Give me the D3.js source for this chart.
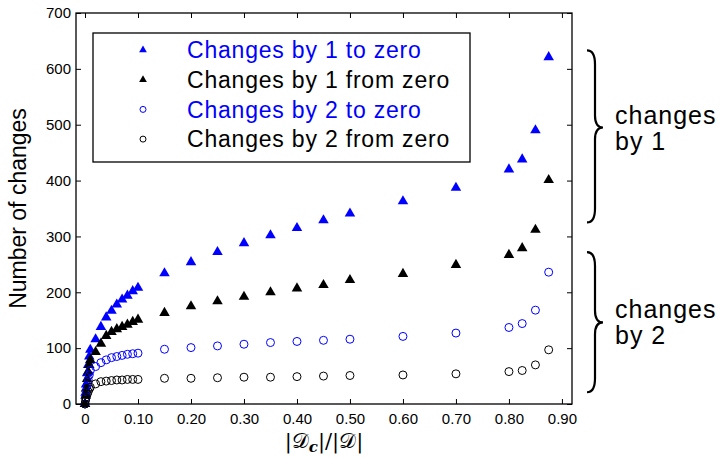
<!DOCTYPE html>
<html>
<head>
<meta charset="utf-8">
<script src="https://cdn.jsdelivr.net/npm/d3@7"></script>
<style>
  body { margin: 0; background: #fff; }
  svg { display: block; font-family: "Liberation Sans", Arial, Helvetica, sans-serif; }
</style>
</head>
<body>
<div id="chart"></div>
<script>
// |Dc|/|D| sample points
const ratios = [0, 0.001, 0.002, 0.004, 0.006, 0.008, 0.01, 0.02, 0.03, 0.04, 0.05, 0.06, 0.07, 0.08, 0.09, 0.1,
  0.15, 0.2, 0.25, 0.3, 0.35, 0.4, 0.45, 0.5, 0.6, 0.7, 0.8, 0.825, 0.85, 0.875];

const byOneToZero = [0, 20, 35, 55, 70, 85, 97, 116, 138, 155, 167, 178, 187, 194, 202, 208,
  234, 254, 272, 288, 302, 315, 329, 341, 363, 387, 420, 438, 490, 621];
const byOneFromZero = [0, 15, 28, 45, 58, 70, 79, 93, 108, 122, 129, 134, 138, 142, 147, 151,
  163, 175, 184, 192, 200, 207, 213, 222, 233, 249, 267, 279, 312, 401];
const byTwoToZero = [0, 12, 22, 33, 43, 52, 60, 67, 74, 79, 83, 85, 87, 89, 90, 91,
  98, 101, 104, 107, 110, 112, 114, 116, 121, 127, 137, 144, 168, 236];
const byTwoFromZero = [0, 6, 11, 17, 22, 27, 30, 36, 40, 41, 42, 43, 43, 44, 44, 44,
  46, 46, 47, 48, 48, 49, 50, 51, 52, 54, 58, 60, 70, 97];

const seriesNames = ['Changes by 1 to zero', 'Changes by 1 from zero', 'Changes by 2 to zero', 'Changes by 2 from zero'];
const xTicks = [0, 0.1, 0.2, 0.3, 0.4, 0.5, 0.6, 0.7, 0.8, 0.9];
const xTickLabels = ['0', '0.10', '0.20', '0.30', '0.40', '0.50', '0.60', '0.70', '0.80', '0.90'];
const yTicks = [0, 100, 200, 300, 400, 500, 600, 700];

// braces on the right: value range covered and where the point sits
const braceLabels = [['changes', 'by 1'], ['changes', 'by 2']];
const braceRanges = [[325, 633, 495], [21, 272, 146]];

const width = 727, height = 458;
const margin = { left: 76, right: 155, top: 13, bottom: 54 };

const series = [
  { name: seriesNames[0], values: byOneToZero, color: '#0000ff', shape: 'triangle' },
  { name: seriesNames[1], values: byOneFromZero, color: '#000000', shape: 'triangle' },
  { name: seriesNames[2], values: byTwoToZero, color: '#0000ff', shape: 'circle' },
  { name: seriesNames[3], values: byTwoFromZero, color: '#000000', shape: 'circle' }
];

const svg = d3.select('#chart').append('svg')
  .attr('width', width)
  .attr('height', height);

const x = d3.scaleLinear()
  .domain([-0.017, 0.919])
  .range([margin.left, width - margin.right]);
const y = d3.scaleLinear()
  .domain([0, 700])
  .range([height - margin.bottom, margin.top]);

// axes, ticks pointing inward on all four sides
svg.append('g')
  .attr('transform', `translate(0,${y(0)})`)
  .call(d3.axisBottom(x).tickValues(xTicks).tickSizeInner(-5).tickSizeOuter(0).tickPadding(9)
    .tickFormat((d, i) => xTickLabels[i]))
  .call(g => g.select('.domain').remove())
  .call(g => g.selectAll('text').attr('font-size', 15).attr('fill', '#000'));

svg.append('g')
  .attr('transform', `translate(0,${y(700)})`)
  .call(d3.axisTop(x).tickValues(xTicks).tickSizeInner(-5).tickSizeOuter(0).tickFormat(''))
  .call(g => g.select('.domain').remove());

svg.append('g')
  .attr('transform', `translate(${x.range()[0]},0)`)
  .call(d3.axisLeft(y).tickValues(yTicks).tickSizeInner(-5).tickSizeOuter(0).tickPadding(5))
  .call(g => g.select('.domain').remove())
  .call(g => g.selectAll('text').attr('font-size', 15).attr('fill', '#000'));

svg.append('g')
  .attr('transform', `translate(${x.range()[1]},0)`)
  .call(d3.axisRight(y).tickValues(yTicks).tickSizeInner(-5).tickSizeOuter(0).tickFormat(''))
  .call(g => g.select('.domain').remove());

svg.append('rect')
  .attr('x', x.range()[0])
  .attr('y', y(700))
  .attr('width', x.range()[1] - x.range()[0])
  .attr('height', y(0) - y(700))
  .attr('fill', 'none')
  .attr('stroke', '#000')
  .attr('stroke-width', 1.3);

// markers
const triangle = d3.symbol(d3.symbolTriangle, 48);
series.forEach(s => {
  const pts = ratios.map((r, i) => ({ r, v: s.values[i] }));
  const g = svg.append('g');
  if (s.shape === 'triangle') {
    g.selectAll('path')
      .data(pts)
      .join('path')
      .attr('d', triangle)
      .attr('transform', d => `translate(${x(d.r)},${y(d.v)})`)
      .attr('fill', s.color);
  } else {
    g.selectAll('circle')
      .data(pts)
      .join('circle')
      .attr('cx', d => x(d.r))
      .attr('cy', d => y(d.v))
      .attr('r', 4)
      .attr('fill', 'none')
      .attr('stroke', s.color)
      .attr('stroke-width', 1);
  }
});

// legend
const legend = svg.append('g');
legend.append('rect')
  .attr('x', 93).attr('y', 33)
  .attr('width', 377).attr('height', 129)
  .attr('fill', '#fff')
  .attr('stroke', '#000')
  .attr('stroke-width', 1.3);

const smallTriangle = d3.symbol(d3.symbolTriangle, 26);
series.forEach((s, i) => {
  const cy = 50 + i * 29.7;
  if (s.shape === 'triangle') {
    legend.append('path')
      .attr('d', smallTriangle)
      .attr('transform', `translate(143,${cy})`)
      .attr('fill', s.color);
  } else {
    legend.append('circle')
      .attr('cx', 143).attr('cy', cy).attr('r', 3)
      .attr('fill', 'none').attr('stroke', s.color);
  }
  legend.append('text')
    .attr('x', 187)
    .attr('y', cy)
    .attr('dy', '0.36em')
    .attr('font-size', 23)
    .attr('letter-spacing', 0.8)
    .attr('fill', s.color)
    .text(s.name);
});

// axis titles
svg.append('text')
  .attr('transform', `translate(26,${(y(0) + y(700)) / 2}) rotate(-90)`)
  .attr('text-anchor', 'middle')
  .attr('font-size', 23)
  .text('Number of changes');

const xTitle = svg.append('text')
  .attr('x', (x.range()[0] + x.range()[1]) / 2)
  .attr('y', 448)
  .attr('text-anchor', 'middle')
  .attr('font-family', '"DejaVu Serif", "Liberation Serif", serif')
  .attr('font-size', 21);
xTitle.append('tspan').text('|𝒟');
xTitle.append('tspan').attr('font-size', 15).attr('font-style', 'italic').attr('font-weight', 'bold').attr('dy', 4).text('c');
xTitle.append('tspan').attr('dy', -4).text('|/|𝒟|');

// braces
braceRanges.forEach(([lo, hi, mid], i) => {
  const top = y(hi), bot = y(lo), tip = y(mid);
  const xl = 587, xs = 595, xr = 603;
  const path = `M${xl},${top} Q${xs},${top} ${xs},${top + 14} L${xs},${tip - 12} Q${xs},${tip} ${xr},${tip}`
    + ` Q${xs},${tip} ${xs},${tip + 12} L${xs},${bot - 14} Q${xs},${bot} ${xl},${bot}`;
  svg.append('path')
    .attr('d', path)
    .attr('fill', 'none')
    .attr('stroke', '#000')
    .attr('stroke-width', 2.2);
  const t = svg.append('text')
    .attr('x', 615)
    .attr('font-size', 25)
    .attr('letter-spacing', 1);
  braceLabels[i].forEach((line, j) => {
    t.append('tspan')
      .attr('x', 615)
      .attr('y', tip - 4 + j * 26)
      .text(line);
  });
});
</script>
</body>
</html>
